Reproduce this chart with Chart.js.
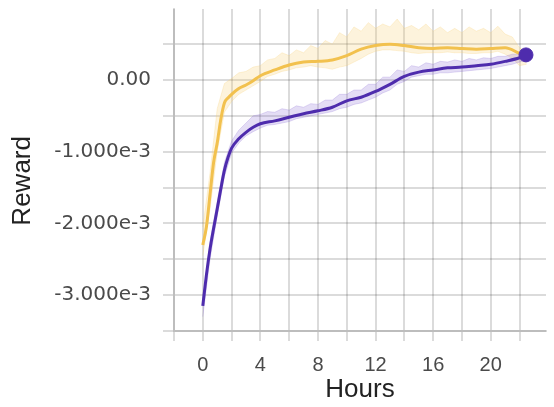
<!DOCTYPE html>
<html lang="en">
<head>
    <meta charset="UTF-8">
    <title>Reward over Hours</title>
    <script src="https://cdn.jsdelivr.net/npm/chart.js@4"></script>
    <style>
        html, body { margin: 0; padding: 0; background: #fff; }
        #wrap { width: 554px; height: 407px; position: relative; }
    </style>
</head>
<body>
    <div id="wrap"><canvas id="rewardChart"></canvas></div>

<script>
// values are in units of 1e-3
const smoothHours = [0, 0.25, 0.5, 0.75, 1, 1.25, 1.5, 1.75, 2, 2.5, 3, 3.5, 4, 5, 6, 7, 8, 9, 10, 11, 12, 13, 14, 15, 16, 17, 18, 19, 20, 21, 22, 22.45];
const yellowSmooth = [-2.3, -2.05, -1.6, -1.15, -0.88, -0.55, -0.32, -0.25, -0.2, -0.12, -0.07, -0.01, 0.06, 0.14, 0.21, 0.25, 0.26, 0.28, 0.34, 0.43, 0.48, 0.5, 0.48, 0.45, 0.44, 0.45, 0.44, 0.43, 0.44, 0.45, 0.37, 0.33];
const purpleSmooth = [-3.15, -2.72, -2.36, -2.07, -1.8, -1.52, -1.26, -1.08, -0.95, -0.82, -0.73, -0.66, -0.61, -0.57, -0.52, -0.47, -0.43, -0.38, -0.29, -0.24, -0.16, -0.06, 0.05, 0.11, 0.14, 0.17, 0.18, 0.2, 0.22, 0.26, 0.31, 0.35];

// spread of the raw (unsmoothed) runs
const rawHours = [0, 0.5, 1, 1.5, 2, 2.5, 3, 3.5, 4, 4.5, 5, 5.5, 6, 6.5, 7, 7.5, 8, 8.5, 9, 9.5, 10, 10.5, 11, 11.5, 12, 12.5, 13, 13.5, 14, 14.5, 15, 15.5, 16, 16.5, 17, 17.5, 18, 18.5, 19, 19.5, 20, 20.5, 21, 21.5, 22, 22.5];
const yellowUpper = [-2.05, -1.3, -0.4, -0.05, 0.02, 0.1, 0.12, 0.18, 0.2, 0.28, 0.3, 0.38, 0.34, 0.42, 0.38, 0.48, 0.44, 0.55, 0.5, 0.66, 0.6, 0.74, 0.68, 0.8, 0.72, 0.78, 0.74, 0.85, 0.72, 0.76, 0.7, 0.78, 0.68, 0.74, 0.66, 0.72, 0.66, 0.74, 0.68, 0.72, 0.66, 0.75, 0.64, 0.6, 0.45, 0.4];
const yellowLower = [-2.45, -1.8, -1.0, -0.45, -0.3, -0.2, -0.14, -0.08, -0.02, 0.05, 0.08, 0.12, 0.14, 0.17, 0.18, 0.2, 0.18, 0.17, 0.15, 0.18, 0.2, 0.25, 0.3, 0.36, 0.4, 0.42, 0.42, 0.41, 0.4, 0.38, 0.37, 0.38, 0.38, 0.38, 0.39, 0.38, 0.38, 0.37, 0.37, 0.38, 0.38, 0.4, 0.36, 0.3, 0.2, 0.22];
const purpleUpper = [-3.1, -2.25, -1.7, -1.15, -0.85, -0.7, -0.6, -0.5, -0.48, -0.44, -0.45, -0.4, -0.42, -0.36, -0.38, -0.33, -0.34, -0.28, -0.28, -0.2, -0.2, -0.14, -0.14, -0.06, -0.06, 0.04, 0.04, 0.14, 0.12, 0.2, 0.18, 0.24, 0.22, 0.26, 0.25, 0.28, 0.26, 0.3, 0.28, 0.31, 0.3, 0.33, 0.33, 0.36, 0.36, 0.38];
const purpleLower = [-3.3, -2.5, -1.9, -1.35, -1.02, -0.88, -0.78, -0.72, -0.67, -0.63, -0.62, -0.6, -0.58, -0.54, -0.52, -0.5, -0.48, -0.46, -0.44, -0.4, -0.38, -0.34, -0.32, -0.28, -0.24, -0.18, -0.14, -0.06, -0.02, 0.04, 0.06, 0.08, 0.08, 0.1, 0.1, 0.11, 0.12, 0.13, 0.14, 0.15, 0.16, 0.18, 0.2, 0.22, 0.25, 0.28];

const endHour = [22.45];
const endValue = [0.35];

const xTickLabels = [0, 4, 8, 12, 16, 20];
const yTickLabels = [0, -1, -2, -3];

const SCALE = 1e-3;
const YELLOW = "#f2c14e";
const PURPLE = "#4e2cad";

function toPoints(xs, ys) {
    return xs.map((x, i) => ({ x: x, y: ys[i] * SCALE }));
}

function band(values, fillColor, fillTarget, order) {
    return {
        data: toPoints(rawHours, values),
        borderColor: fillColor,
        backgroundColor: fillColor,
        borderWidth: 1,
        pointRadius: 0,
        tension: 0,
        fill: fillTarget,
        order: order
    };
}

const gridColor = "rgba(0, 0, 0, 0.14)";

const ctx = document.getElementById("rewardChart").getContext("2d");
new Chart(ctx, {
    type: "line",
    data: {
        datasets: [
            band(yellowUpper, "rgba(245, 205, 110, 0.24)", "+1", 5),
            band(yellowLower, "rgba(245, 205, 110, 0.24)", false, 5),
            band(purpleUpper, "rgba(130, 100, 210, 0.22)", "+1", 4),
            band(purpleLower, "rgba(130, 100, 210, 0.22)", false, 4),
            {
                data: toPoints(smoothHours, yellowSmooth),
                borderColor: YELLOW,
                borderWidth: 3,
                pointRadius: 0,
                cubicInterpolationMode: "monotone",
                order: 3
            },
            {
                data: toPoints(smoothHours, purpleSmooth),
                borderColor: PURPLE,
                borderWidth: 3,
                pointRadius: 0,
                cubicInterpolationMode: "monotone",
                order: 2
            },
            {
                data: toPoints(endHour, endValue),
                borderColor: PURPLE,
                backgroundColor: PURPLE,
                showLine: false,
                pointRadius: 7,
                order: 1
            }
        ]
    },
    options: {
        responsive: true,
        maintainAspectRatio: false,
        animation: false,
        devicePixelRatio: 1,
        layout: { padding: { top: 9, right: 0, left: 0, bottom: 0 } },
        plugins: { legend: { display: false }, tooltip: { enabled: false } },
        scales: {
            x: {
                type: "linear",
                min: -2,
                max: 23.84,
                afterFit: (scale) => {
                    scale.height = 76;
                    scale.paddingLeft = 0;
                    scale.paddingRight = 0;
                },
                ticks: {
                    stepSize: 2,
                    includeBounds: false,
                    autoSkip: false,
                    maxRotation: 0,
                    padding: 12,
                    color: "#4a4a4a",
                    font: { family: "Liberation Sans", size: 20 },
                    callback: (v) => xTickLabels.includes(v) ? String(v) : ""
                },
                grid: { color: gridColor, lineWidth: 2, tickLength: 10 },
                border: { color: gridColor, width: 2 },
                title: {
                    display: true,
                    text: "Hours",
                    color: "#222",
                    padding: { top: 0, bottom: 2 },
                    font: { family: "Liberation Sans", size: 26 }
                }
            },
            y: {
                min: -3.5e-3,
                max: 0.99e-3,
                afterFit: (scale) => {
                    scale.width = 174;
                    scale.paddingTop = 0;
                    scale.paddingBottom = 0;
                },
                ticks: {
                    stepSize: 0.5e-3,
                    includeBounds: false,
                    autoSkip: false,
                    padding: 12,
                    color: "#4a4a4a",
                    font: { family: "DejaVu Sans", size: 20 },
                    callback: (v) => {
                        const m = Math.round(v / SCALE * 1000) / 1000;
                        if (!yTickLabels.includes(m)) return "";
                        return m === 0 ? "0.00" : m.toFixed(3) + "e-3";
                    }
                },
                grid: { color: gridColor, lineWidth: 2, tickLength: 11 },
                border: { color: gridColor, width: 2 },
                title: {
                    display: true,
                    text: "Reward   ",
                    color: "#222",
                    padding: { top: 7, bottom: 0 },
                    font: { family: "Liberation Sans", size: 26 }
                }
            }
        }
    }
});
</script>
</body>
</html>
